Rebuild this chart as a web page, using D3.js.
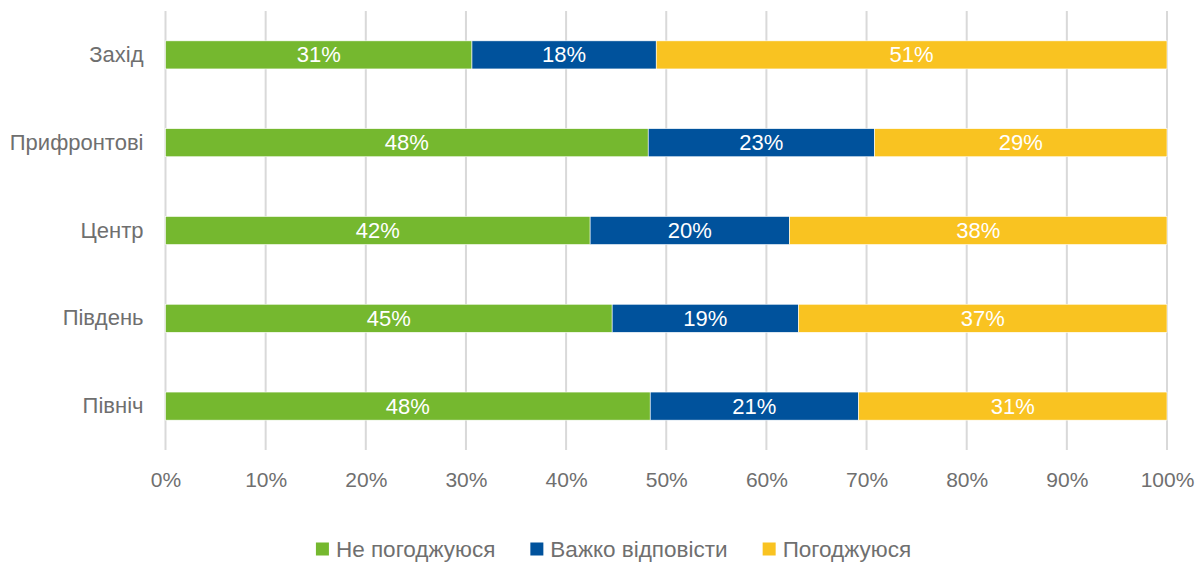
<!DOCTYPE html>
<html lang="uk">
<head>
  <meta charset="UTF-8">
  <title>Регіони</title>
  <script src="https://d3js.org/d3.v7.min.js"></script>
  <style>
    body { margin: 0; background: #fff; font-family: "Liberation Sans", Arial, sans-serif; }
    svg { display: block; }
    .tick text { fill: #6f6f6f; font-family: "Liberation Sans", Arial, sans-serif; }
    .x-axis .tick text { font-size: 21px; }
    .y-axis .tick text { font-size: 22px; }
    .seg-label { fill: #fff; font-size: 22px; text-anchor: middle; dominant-baseline: central; }
    .legend text { fill: #6f6f6f; font-size: 22.5px; dominant-baseline: central; }
  </style>
</head>
<body>
  <script>
    const regions = ["Захід", "Прифронтові", "Центр", "Південь", "Північ"];
    const seriesNames = ["Не погоджуюся", "Важко відповісти", "Погоджуюся"];
    const seriesColors = ["#75b82f", "#00529c", "#f9c321"];
    const disagree = [30.6, 48.2, 42.4, 44.6, 48.4];
    const hard = [18.4, 22.6, 19.9, 18.6, 20.8];
    const agree = [51.0, 29.2, 37.7, 36.8, 30.8];
    const xTicks = [0, 10, 20, 30, 40, 50, 60, 70, 80, 90, 100];

    const width = 1201, height = 562;
    const margin = { top: 11, right: 34, bottom: 112, left: 165.5 };

    const rows = regions.map((r, i) => ({ region: r, s0: disagree[i], s1: hard[i], s2: agree[i] }));
    const stack = d3.stack().keys(["s0", "s1", "s2"])(rows);

    const svg = d3.select("body").append("svg")
      .attr("width", width)
      .attr("height", height);

    const x = d3.scaleLinear().domain([0, 100]).range([margin.left, width - margin.right]);
    const y = d3.scaleBand().domain(regions).range([margin.top, height - margin.bottom]).paddingInner(0.68).paddingOuter(0.34);

    // vertical gridlines
    svg.append("g")
      .selectAll("line")
      .data(xTicks)
      .join("line")
      .attr("x1", d => x(d)).attr("x2", d => x(d))
      .attr("y1", margin.top).attr("y2", height - margin.bottom)
      .attr("stroke", "#d9d9d9")
      .attr("stroke-width", 2);

    // x axis labels
    const xAxis = svg.append("g")
      .attr("class", "x-axis")
      .attr("transform", `translate(0,${height - margin.bottom})`)
      .call(d3.axisBottom(x).tickValues(xTicks).tickFormat(d => d + "%").tickSize(0).tickPadding(22));
    xAxis.select(".domain").remove();

    // y axis labels
    const yAxis = svg.append("g")
      .attr("class", "y-axis")
      .attr("transform", `translate(${margin.left},0)`)
      .call(d3.axisLeft(y).tickSize(0).tickPadding(22));
    yAxis.select(".domain").remove();

    // bars
    const layer = svg.append("g")
      .selectAll("g")
      .data(stack)
      .join("g")
      .attr("fill", (d, i) => seriesColors[i]);

    layer.selectAll("rect")
      .data(d => d)
      .join("rect")
      .attr("x", d => x(d[0]))
      .attr("y", d => y(d.data.region))
      .attr("width", d => x(d[1]) - x(d[0]))
      .attr("height", y.bandwidth())
      .attr("stroke", "#fff")
      .attr("stroke-width", 0.6);

    layer.selectAll("text")
      .data(d => d)
      .join("text")
      .attr("class", "seg-label")
      .attr("x", d => (x(d[0]) + x(d[1])) / 2)
      .attr("y", d => y(d.data.region) + y.bandwidth() / 2)
      .text(d => Math.round(d[1] - d[0]) + "%");

    // legend, laid out from measured text widths and centred
    const legend = svg.append("g")
      .attr("class", "legend")
      .attr("transform", "translate(0,549)");

    const items = legend.selectAll("g")
      .data(seriesNames)
      .join("g");

    items.append("rect")
      .attr("x", 0).attr("y", -6.5)
      .attr("width", 13).attr("height", 13)
      .attr("fill", (d, i) => seriesColors[i]);

    items.append("text")
      .attr("x", 20)
      .attr("y", 0)
      .text(d => d);

    let offset = 0;
    const starts = [];
    items.each(function () {
      starts.push(offset);
      offset += 20 + this.querySelector("text").getComputedTextLength() + 35;
    });
    const total = offset - 35;
    const left = 613.5 - total / 2;
    items.attr("transform", (d, i) => `translate(${left + starts[i]},0)`);
  </script>
</body>
</html>
